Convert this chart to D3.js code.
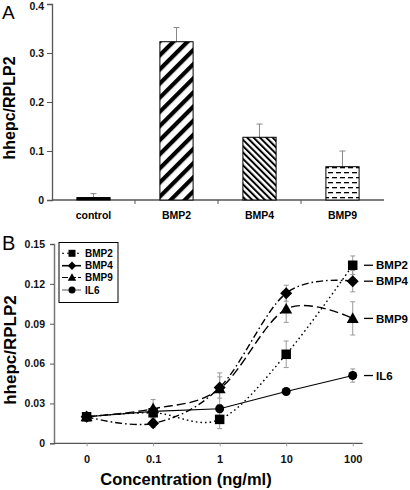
<!DOCTYPE html>
<html><head><meta charset="utf-8">
<script src="https://cdn.jsdelivr.net/npm/d3@7"></script>
<style>body{margin:0;background:#fff}svg{display:block;font-family:Arial,"Liberation Sans",sans-serif}</style>
</head><body><svg id="c" width="410" height="490"></svg>
<script>
// Panel A data
const categories = ["control","BMP2","BMP4","BMP9"];
const barValues = [0.005,0.323,0.128,0.068];
const barErrors = [0.008,0.029,0.027,0.032];
const barPatterns = ["solid","wide","narrow","dash"];
const yTicksA = [0,0.1,0.2,0.3,0.4];

// Panel B data
const concLabels = ["0","0.1","1","10","100"];
const seriesNames = ["BMP2","BMP4","BMP9","IL6"];
const bmp2 = [0.020,0.023,0.018,0.067,0.134];
const bmp4 = [0.020,0.015,0.042,0.113,0.122];
const bmp9 = [0.020,0.026,0.041,0.101,0.094];
const il6  = [0.020,0.024,0.026,0.039,0.051];
const bmp2Err = [0.003,0.004,0.007,0.010,0.007];
const bmp4Err = [0.003,0.003,0.008,0.006,0.008];
const bmp9Err = [0.003,0.007,0.012,0.010,0.0125];
const il6Err  = [0.002,0.003,0.003,0.002,0.005];
const yTicksB = [0,0.03,0.06,0.09,0.12,0.15];

const svg = d3.select("#c");
const axisCol = "#555";
const defs = svg.append("defs");
const pw = defs.append("pattern").attr("id","pWide").attr("patternUnits","userSpaceOnUse")
  .attr("width",10).attr("height",10).attr("patternTransform","rotate(45)");
pw.append("rect").attr("width",10).attr("height",10).attr("fill","#fff");
pw.append("rect").attr("x",0).attr("width",4.2).attr("height",10).attr("fill","#000");
const pn = defs.append("pattern").attr("id","pNarrow").attr("patternUnits","userSpaceOnUse")
  .attr("width",4.5).attr("height",4.5).attr("patternTransform","rotate(-45)");
pn.append("rect").attr("width",4.5).attr("height",4.5).attr("fill","#fff");
pn.append("rect").attr("width",2).attr("height",4.5).attr("fill","#000");
const pd = defs.append("pattern").attr("id","pDash").attr("patternUnits","userSpaceOnUse")
  .attr("width",8).attr("height",10);
pd.append("rect").attr("width",8).attr("height",10).attr("fill","#fff");
pd.append("rect").attr("x",0).attr("y",2).attr("width",5).attr("height",1.3).attr("fill","#000");
pd.append("rect").attr("x",4).attr("y",7).attr("width",5).attr("height",1.3).attr("fill","#000");
pd.append("rect").attr("x",-4).attr("y",7).attr("width",5).attr("height",1.3).attr("fill","#000");
const fillFor = p => p==="solid"?"#000":p==="wide"?"url(#pWide)":p==="narrow"?"url(#pNarrow)":"url(#pDash)";

// ---------- Panel A ----------
const xA = d3.scaleBand().domain(categories).range([52,384]).paddingInner(0.6).paddingOuter(0.3);
const yA = d3.scaleLinear().domain([0,0.4]).range([200,4]);
const gA = svg.append("g");
const yAxA = gA.append("g").attr("transform","translate(52,0)")
  .call(d3.axisLeft(yA).tickValues(yTicksA).tickSize(5).tickFormat(d=>d===0?"0":d3.format(".1f")(d)));
yAxA.select(".domain").attr("stroke",axisCol).attr("stroke-width",1.3);
yAxA.selectAll(".tick line").attr("stroke",axisCol);
yAxA.selectAll("text").attr("font-size",10.5).attr("font-weight","bold").attr("fill","#111").attr("x",-8)
  .attr("dy",d=>d===0.4?"0.55em":"0.32em");
gA.append("line").attr("x1",52).attr("x2",384).attr("y1",yA(0)).attr("y2",yA(0)).attr("stroke",axisCol).attr("stroke-width",1.3);
categories.slice(1).forEach(c=>{
  const bx = xA(c) - xA.step()*xA.paddingInner()/2;
  gA.append("line").attr("x1",bx).attr("x2",bx).attr("y1",yA(0)).attr("y2",yA(0)+4).attr("stroke",axisCol);
});
categories.forEach((c,i)=>{
  const cx = xA(c)+xA.bandwidth()/2;
  gA.append("line").attr("x1",cx).attr("x2",cx).attr("y1",yA(barValues[i])).attr("y2",yA(barValues[i]+barErrors[i])).attr("stroke","#888").attr("stroke-width",1);
  gA.append("line").attr("x1",cx-3).attr("x2",cx+3).attr("y1",yA(barValues[i]+barErrors[i])).attr("y2",yA(barValues[i]+barErrors[i])).attr("stroke","#888").attr("stroke-width",1);
  gA.append("rect").attr("x",xA(c)).attr("y",yA(barValues[i])).attr("width",xA.bandwidth())
    .attr("height",yA(0)-yA(barValues[i])).attr("fill",fillFor(barPatterns[i])).attr("stroke","#000").attr("stroke-width",1);
  gA.append("text").attr("x",cx).attr("y",219).attr("text-anchor","middle").attr("font-size",10.5)
    .attr("font-weight","bold").text(c);
});
gA.append("text").attr("transform","translate(15,108) rotate(-90)").attr("text-anchor","middle")
  .attr("font-size",16).attr("font-weight","bold").text("hhepc/RPLP2");
gA.append("text").attr("x",2).attr("y",19).attr("font-size",19).text("A");

// ---------- Panel B ----------
const xB = d3.scaleLinear().domain([-0.49,4.15]).range([54,362.7]);
const yB = d3.scaleLinear().domain([0,0.15]).range([443.3,244]);
const gB = svg.append("g");
const yAxB = gB.append("g").attr("transform","translate(54,0)")
  .call(d3.axisLeft(yB).tickValues(yTicksB).tickSize(4).tickFormat(d=>d===0?"0":d3.format(".2f")(d)));
yAxB.select(".domain").attr("stroke","#777").attr("stroke-width",1.5);
yAxB.selectAll(".tick line").attr("stroke",axisCol);
yAxB.selectAll("text").attr("font-size",10.5).attr("font-weight","bold").attr("fill","#111").attr("x",-9);
const xAxB = gB.append("g").attr("transform",`translate(0,${yB(0)})`)
  .call(d3.axisBottom(xB).tickValues(d3.range(concLabels.length)).tickSize(3).tickFormat(i=>concLabels[i]));
xAxB.select(".domain").attr("stroke",axisCol).attr("stroke-width",1.3).attr("d",`M54,0H362.7`);
xAxB.selectAll(".tick line").attr("stroke","#999");
xAxB.selectAll("text").attr("font-size",11).attr("font-weight","bold").attr("fill","#111").attr("dy",0).attr("y",20);
gB.append("text").attr("x",186).attr("y",485).attr("text-anchor","middle").attr("font-size",16.5)
  .attr("font-weight","bold").text("Concentration (ng/ml)");
gB.append("text").attr("transform","translate(16,350) rotate(-90)").attr("text-anchor","middle")
  .attr("font-size",17).attr("font-weight","bold").text("hhepc/RPLP2");
gB.append("text").attr("x",2).attr("y",250).attr("font-size",20).text("B");

const series = [
  {name:"BMP2",vals:bmp2,err:bmp2Err,dash:"1.6,3",curve:d3.curveCardinal.tension(0),mk:"square",w:1.4},
  {name:"BMP4",vals:bmp4,err:bmp4Err,dash:"7,3,1.6,3",curve:d3.curveCardinal.tension(0),mk:"diamond",w:1.4},
  {name:"BMP9",vals:bmp9,err:bmp9Err,dash:"9,4",curve:d3.curveCardinal.tension(0),mk:"triangle",w:1.4},
  {name:"IL6",vals:il6,err:il6Err,dash:null,curve:d3.curveLinear,mk:"circle",w:1.1}
];
series.forEach(s=>{
  s.vals.forEach((v,i)=>{
    const x = xB(i);
    gB.append("line").attr("x1",x).attr("x2",x).attr("y1",yB(v-s.err[i])).attr("y2",yB(v+s.err[i])).attr("stroke","#999").attr("stroke-width",1);
    [v-s.err[i],v+s.err[i]].forEach(e=>gB.append("line").attr("x1",x-2.5).attr("x2",x+2.5).attr("y1",yB(e)).attr("y2",yB(e)).attr("stroke","#999").attr("stroke-width",1));
  });
});
series.forEach(s=>{
  const line = d3.line().x((d,i)=>xB(i)).y(d=>yB(d)).curve(s.curve);
  gB.append("path").attr("d",line(s.vals)).attr("fill","none").attr("stroke","#000")
    .attr("stroke-width",s.w).attr("stroke-dasharray",s.dash);
});
function marker(g,type,x,y,sz){
  if(type==="square") g.append("rect").attr("x",x-sz/2).attr("y",y-sz/2).attr("width",sz).attr("height",sz).attr("fill","#000");
  else if(type==="diamond") g.append("path").attr("d",`M${x},${y-sz*0.6}L${x+sz*0.6},${y}L${x},${y+sz*0.6}L${x-sz*0.6},${y}Z`).attr("fill","#000");
  else if(type==="triangle") g.append("path").attr("d",`M${x},${y-sz*0.62}L${x+sz*0.6},${y+sz*0.45}L${x-sz*0.6},${y+sz*0.45}Z`).attr("fill","#000");
  else g.append("circle").attr("cx",x).attr("cy",y).attr("r",sz/2).attr("fill","#000");
}
series.slice().reverse().forEach(s=>{
  s.vals.forEach((v,i)=>marker(gB,s.mk,xB(i),yB(v),s.mk==="square"?9.5:s.mk==="circle"?9:10));
});
series.forEach(s=>{
  const v = s.vals[s.vals.length-1];
  gB.append("line").attr("x1",364).attr("x2",373).attr("y1",yB(v)).attr("y2",yB(v)).attr("stroke","#000").attr("stroke-width",1.3);
  gB.append("text").attr("x",376).attr("y",yB(v)+4.2).attr("font-size",11.5).attr("font-weight","bold").text(s.name);
});
const lg = gB.append("g");
lg.append("rect").attr("x",59).attr("y",242.5).attr("width",59).attr("height",60).attr("fill","#fff").attr("stroke","#000").attr("stroke-width",1);
const legY = [253.3,265.7,277.5,290];
series.forEach((s,i)=>{
  lg.append("line").attr("x1",62).attr("x2",81).attr("y1",legY[i]).attr("y2",legY[i]).attr("stroke",s.name==="IL6"?"#666":"#000")
    .attr("stroke-width",s.name==="BMP4"?1.6:1.1).attr("stroke-dasharray",s.name==="BMP2"?"2,3":s.name==="BMP9"?"6,2":null);
  marker(lg,s.mk,72,legY[i],7);
  lg.append("text").attr("x",85).attr("y",legY[i]+3.6).attr("font-size",10).attr("font-weight","bold").text(s.name);
});
</script></body></html>
